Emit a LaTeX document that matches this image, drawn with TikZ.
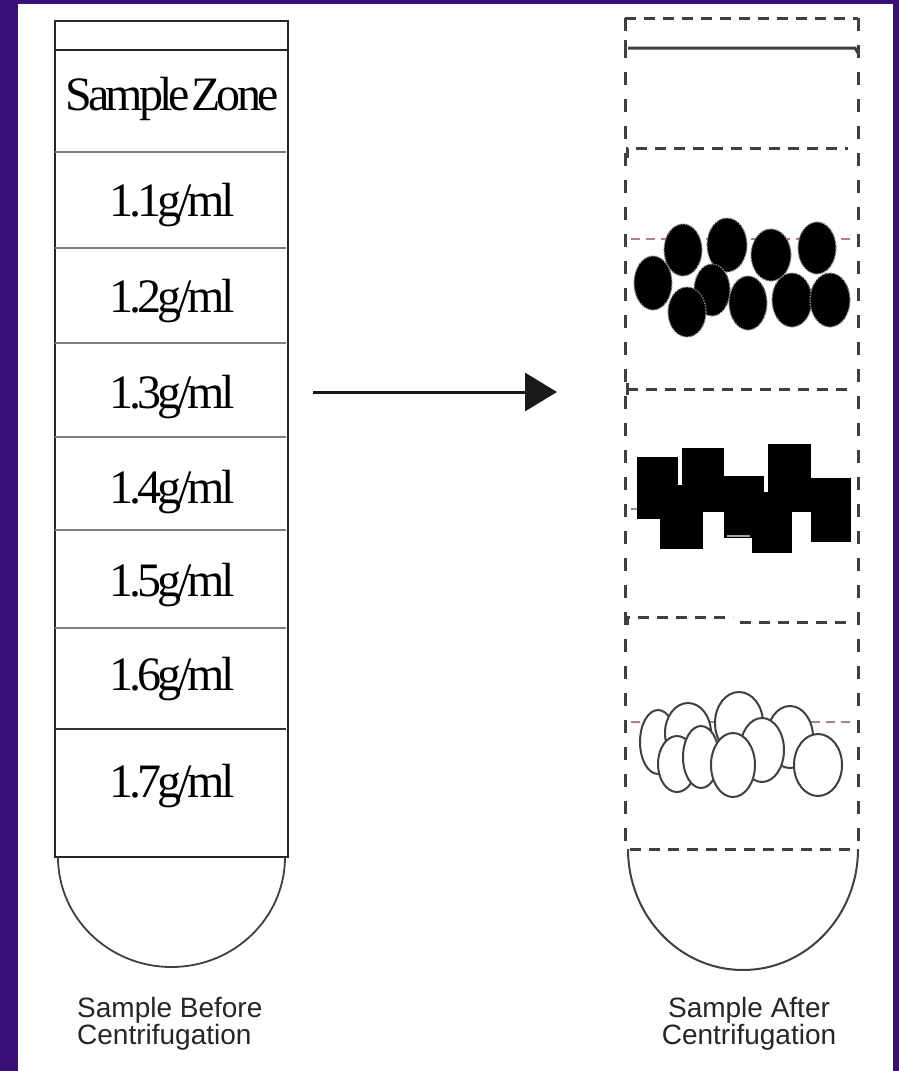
\documentclass[tikz,border=0pt]{standalone}
\usepackage{fontspec}
\setmainfont{Liberation Serif}
\newfontfamily\densefont[LetterSpace=-8]{Liberation Serif}
\newfontfamily\capfont{Liberation Sans}
\usetikzlibrary{arrows.meta}
\definecolor{slide}{RGB}{60,16,122}
\definecolor{bandline}{RGB}{178,128,128}

\begin{document}
\begin{tikzpicture}[x=1pt,y=-1pt,
  tube/.style={line width=2.8pt, draw=black!85},
  divider/.style={line width=2.2pt, draw=black!50},
  darkdivider/.style={line width=2.4pt, draw=black!80},
  hdash/.style={line width=3pt, draw=black!75, dash pattern=on 11pt off 8pt},
  vdash/.style={line width=3pt, draw=black!75, dash pattern=on 13pt off 14pt},
  solidedge/.style={line width=3pt, draw=black!75},
  band/.style={line width=1.5pt, draw=bandline, dash pattern=on 9pt off 6pt},
  zonetext/.style={font=\densefont\fontsize{48}{48}\selectfont, anchor=base, inner sep=0pt},
  caption/.style={font=\capfont\fontsize{28}{27}\selectfont, inner sep=0pt, text=black!85},
  pellet/.style={fill=black, draw=white!55!black, line width=1.2pt, dash pattern=on 1.5pt off 1.2pt},
  block/.style={fill=black},
  bead/.style={fill=white, draw=black!75, line width=2pt},
]
% slide background and white page
\fill[slide] (0,0) rectangle (899,1071);
\fill[white] (18,4) rectangle (893,1071);

% ---------- tube before centrifugation ----------
\draw[tube] (55,21) rectangle (288,857);
\draw[tube] (55,50) -- (288,50);
\draw[divider] (55,152) -- (286,152);
\draw[divider] (55,248) -- (286,248);
\draw[divider] (55,343) -- (286,343);
\draw[divider] (55,437) -- (286,437);
\draw[divider] (55,530) -- (286,530);
\draw[divider] (55,628) -- (286,628);
\draw[darkdivider] (55,729) -- (286,729);
\draw[line width=1.8pt, draw=black!75] (58,857) arc[start angle=180, end angle=360, x radius=113.5pt, y radius=110pt];

\node[zonetext] (z0) at (172,110) {Sample\hspace{-7pt} Zone};
\node[zonetext] (z1) at (172,216) {1.1g/ml};
\node[zonetext] (z2) at (172,312) {1.2g/ml};
\node[zonetext] (z3) at (172,408) {1.3g/ml};
\node[zonetext] (z4) at (172,503) {1.4g/ml};
\node[zonetext] (z5) at (172,596) {1.5g/ml};
\node[zonetext] (z6) at (172,690) {1.6g/ml};
\node[zonetext] (z7) at (172,797) {1.7g/ml};

\node[caption, align=left, anchor=north west] (before) at (77,997) {Sample Before\\Centrifugation};

% ---------- arrow ----------
\coordinate (arrowstart) at (313,392);
\coordinate (arrowend) at (557,392);
\draw[line width=3pt, draw=black!90, -{Triangle[length=32pt, width=38pt]}] (arrowstart) -- (arrowend);

% ---------- tube after centrifugation ----------
\draw[vdash] (625,18) -- (625,843);
\draw[vdash] (858,18) -- (858,849);
\draw[hdash] (625,18) -- (858,18);
\draw[solidedge] (625,40) -- (625,55);
\draw[solidedge] (628,48) -- (855,48) -- (858,53);
\draw[hdash] (627,158) -- (627,148) -- (848,148);
\draw[hdash] (627,389) -- (848,389);
\draw[solidedge] (627,383) -- (627,395);
\draw[hdash] (627,625) -- (627,617) -- (733,617);
\draw[hdash] (740,622) -- (848,622);
\draw[hdash] (630,849) -- (852,849);
\draw[line width=2pt, draw=black!75] (628,849) arc[start angle=180, end angle=360, x radius=115pt, y radius=121pt];

% density bands
\draw[band] (631,239) -- (850,239);
\draw[band] (631,509) -- (850,509);
\draw[band] (631,722) -- (850,722);

% dense round particles
\foreach \cx/\cy/\rx/\ry in {683/250/19/26, 727/245/20/27, 771/255/20/26, 817/248/19/26,
    653/283/19/27, 712/290/18/26, 687/312/19/25, 748/303/19/27, 792/300/20/27, 830/300/20/27}
  \path[pellet] (\cx,\cy) ellipse [x radius=\rx pt, y radius=\ry pt];

% square particles
\fill[block] (637,457) rectangle (678,519);
\fill[block] (682,448) rectangle (724,512);
\fill[block] (660,485) rectangle (703,549);
\fill[block] (724,476) rectangle (764,538);
\fill[block] (752,492) rectangle (792,553);
\fill[block] (768,444) rectangle (811,512);
\fill[block] (811,478) rectangle (851,542);
\draw[line width=1.2pt, draw=black!35] (727,536) -- (750,536);

% light oval particles
\foreach \cx/\cy/\rx/\ry in {739/723/24/31, 658/742/18/32, 688/733/23/30, 790/737/23/31,
    677/764/19/28, 701/757/18/31, 762/750/22/32, 733/765/22/32, 818/765/24/31}
  \path[bead] (\cx,\cy) ellipse [x radius=\rx pt, y radius=\ry pt];

\node[caption, align=center, anchor=north] (after) at (749,997) {Sample After\\Centrifugation};
\end{tikzpicture}
\end{document}
